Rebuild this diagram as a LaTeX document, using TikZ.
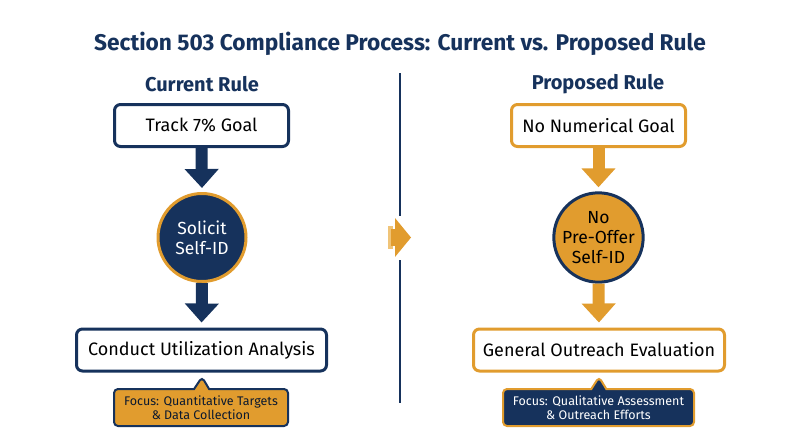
\documentclass[tikz,border=0pt]{standalone}
\usepackage{fontspec}
\setmainfont{Fira Sans}
\usetikzlibrary{arrows.meta,shapes.callouts}
\definecolor{navy}{RGB}{22,50,92}
\definecolor{gold}{RGB}{225,156,46}
\definecolor{goldlight}{RGB}{240,196,120}
\begin{document}
\begin{tikzpicture}[x=1pt,y=-1pt,
  stepbox/.style={draw=#1,line width=3pt,rounded corners=6pt,fill=white,
    minimum height=42pt,inner sep=0pt,font=\fontsize{18}{21}\selectfont,text=black},
  stepdisk/.style={circle,line width=3pt,minimum size=88pt,inner sep=0pt,align=center,
    font=\fontsize{17.5}{20}\selectfont},
  flowarrow/.style={draw=#1,line width=12pt,-{Triangle[width=33pt,length=19pt]}},
  focusnote/.style={rectangle callout,line width=2pt,rounded corners=4pt,align=center,
    minimum height=37pt,inner sep=0pt,callout pointer width=15pt,
    font=\fontsize{12.5}{14.5}\selectfont},
  heading/.style={text=navy,font=\fontsize{20}{24}\selectfont\bfseries}]
\useasboundingbox (0,0) rectangle (800,447);

\node[text=navy,font=\fontsize{22.7}{26}\selectfont\bfseries] (title) at (400,44)
  {Section 503 Compliance Process: Current vs. Proposed Rule};
\node[heading] (curhead) at (202,84) {Current Rule};
\node[heading] (prohead) at (598,84) {Proposed Rule};

% divider
\draw[navy,line width=2.5pt] (400,73) -- (400,216);
\draw[navy,line width=2.5pt] (400,260) -- (400,403);
\fill[goldlight] (388,226) rectangle (393,249);
\fill[gold] (395,218) -- (411,237.5) -- (395,257) -- cycle;
\fill[gold] (391,229) rectangle (395,246);

% current rule
\node[stepbox=navy,minimum width=174pt] (track) at (201.5,125.5) {Track 7\% Goal};
\node[stepdisk,fill=navy,draw=gold,text=white] (solicit) at (202,237.5) {Solicit\\Self-ID};
\node[stepbox=navy,minimum width=250pt] (conduct) at (201.5,350) {Conduct Utilization Analysis};
\draw[flowarrow=navy,shorten >=4pt] (track.south) -- (solicit.north);
\draw[flowarrow=navy,shorten >=5pt] (solicit.south) -- (conduct.north);
\node[focusnote,fill=gold,draw=navy,text=navy!50!black,minimum width=174pt,
  callout absolute pointer={(202,377)}] (quant) at (201,407.5)
  {Focus: Quantitative Targets\\\& Data Collection};

% proposed rule
\node[stepbox=gold,minimum width=174pt] (nogoal) at (598.5,125.5) {No Numerical Goal};
\node[stepdisk,fill=gold,draw=navy,text=black] (nopre) at (598.5,237.5) {No\\Pre-Offer\\Self-ID};
\node[stepbox=gold,minimum width=251pt] (outreach) at (599,350) {General Outreach Evaluation};
\draw[flowarrow=gold,shorten >=4pt] (nogoal.south) -- (nopre.north);
\draw[flowarrow=gold,shorten >=5pt] (nopre.south) -- (outreach.north);
\node[focusnote,fill=navy,draw=gold,text=white,minimum width=191pt,
  callout absolute pointer={(599,377)}] (qual) at (598.5,407.5)
  {Focus: Qualitative Assessment\\\& Outreach Efforts};
\end{tikzpicture}
\end{document}
